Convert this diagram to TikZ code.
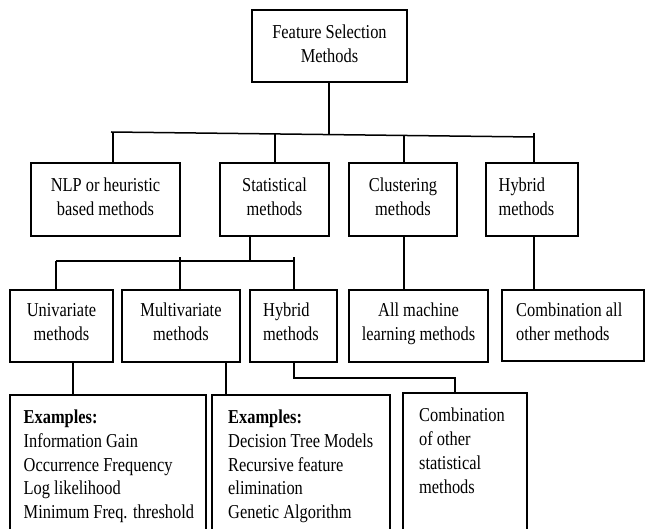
\documentclass[tikz,border=0pt]{standalone}
\usepackage{fontspec}
\usepackage{graphicx}
\setmainfont{Liberation Serif}
\newcommand{\mytxt}[2]{\scalebox{1}[1.2]{\begin{tabular}[t]{@{}#1@{}}#2\end{tabular}}}
\newcommand{\mkbox}[5]{\node[boxst, minimum width={(#4-#2)*1pt}, minimum height={(#5-#3)*1pt}] (#1) at ({(#2+#4)/2},{(#3+#5)/2}) {};}
\tikzset{
  boxst/.style={draw=black, line width=1.8pt, inner sep=0pt, outer sep=0pt, fill=none},
  conn/.style={line width=1.5pt, draw=black},
  ctxt/.style={inner sep=0pt, anchor=base, font=\fontsize{16.4}{20}\selectfont},
  ltxt/.style={inner sep=0pt, anchor=base west, font=\fontsize{16.4}{20}\selectfont}
}
\begin{document}
\begin{tikzpicture}[x=1pt,y=-1pt]
\useasboundingbox (0,0) rectangle (646,529);
\clip (0,0) rectangle (646,529);
% boxes
\mkbox{top}{252}{10}{407}{82}
\mkbox{nlp}{31}{163}{180}{236}
\mkbox{stat}{220}{163}{329}{236}
\mkbox{clus}{349}{163}{457}{236}
\mkbox{hyb}{486}{163}{578}{236}
\mkbox{uni}{10}{290}{113}{362}
\mkbox{multi}{122}{290}{240}{362}
\mkbox{hybb}{250}{290}{337}{362}
\mkbox{allml}{349}{290}{488}{362}
\mkbox{comb}{502}{290}{644}{361}
\mkbox{exa}{10}{395}{206}{560}
\mkbox{exb}{212}{395}{390}{560}
\mkbox{combb}{403}{393}{527}{560}
% texts
\node[ctxt] (ttop) at (329.5,39) {\mytxt{c}{Feature Selection\\Methods}};
\node[ctxt] (tnlp) at (105.5,192) {\mytxt{c}{NLP or heuristic\\based methods}};
\node[ctxt] (tstat) at (274.5,192) {\mytxt{c}{Statistical\\methods}};
\node[ctxt] (tclus) at (403,192) {\mytxt{c}{Clustering\\methods}};
\node[ltxt] (thyb) at (498.5,192) {\mytxt{l}{Hybrid\\methods}};
\node[ctxt] (tuni) at (61.5,317) {\mytxt{c}{Univariate\\methods}};
\node[ctxt] (tmulti) at (181,317) {\mytxt{c}{Multivariate\\methods}};
\node[ltxt] (thybb) at (263,317) {\mytxt{l}{Hybrid\\methods}};
\node[ctxt] (tallml) at (418.5,317) {\mytxt{c}{All machine\\learning methods}};
\node[ltxt] (tcomb) at (516,317) {\mytxt{l}{Combination all\\other methods}};
\node[ltxt, font=\fontsize{16.4}{19.6}\selectfont] (texa) at (23.5,424) {\mytxt{l}{\textbf{Examples:}\\Information Gain\\Occurrence Frequency\\Log likelihood\\Minimum Freq. threshold}};
\node[ltxt, font=\fontsize{16.4}{19.6}\selectfont] (texb) at (228,424) {\mytxt{l}{\textbf{Examples:}\\Decision Tree Models\\Recursive feature\\elimination\\Genetic Algorithm}};
\node[ltxt] (tcombb) at (419,422) {\mytxt{l}{Combination\\of other\\statistical\\methods}};
% connectors level 1
\coordinate (bL) at (111,132);
\coordinate (bR) at (534,137);
\coordinate (j0) at (329,134.6);
\coordinate (j1) at (113,132.1);
\coordinate (j2) at (275,133.9);
\coordinate (j3) at (404,135.5);
\coordinate (j4) at (534,133.5);
\draw[conn] (bL) -- (bR);
\draw[conn] (top.south -| j0) -- (j0);
\draw[conn] (j1) -- (j1 |- nlp.north);
\draw[conn] (j2) -- (j2 |- stat.north);
\draw[conn] (j3) -- (j3 |- clus.north);
\draw[conn] (j4) -- (j4 |- hyb.north);
% level 2 -> 3
\coordinate (sL) at (56,261);
\coordinate (sR) at (294,261);
\coordinate (s0) at (250,261);
\coordinate (s1) at (56,261);
\coordinate (s2) at (180,257.5);
\coordinate (s3) at (294,257.5);
\draw[conn] (sL) -- (sR);
\draw[conn] (stat.south -| s0) -- (s0);
\draw[conn] (s1) -- (s1 |- uni.north);
\draw[conn] (s2) -- (s2 |- multi.north);
\draw[conn] (s3) -- (s3 |- hybb.north);
\coordinate (c1) at (404,0);
\coordinate (c2) at (534,0);
\draw[conn] (clus.south -| c1) -- (allml.north -| c1);
\draw[conn] (hyb.south -| c2) -- (comb.north -| c2);
% level 3 -> 4
\coordinate (u1) at (73,0);
\coordinate (m1) at (226,0);
\draw[conn] (uni.south -| u1) -- (exa.north -| u1);
\draw[conn] (multi.south -| m1) -- (exb.north -| m1);
\coordinate (h1) at (294,378);
\coordinate (h2) at (455,378);
\draw[conn] (hybb.south -| h1) -- (h1) -- (h2) -- (h2 |- combb.north);
\end{tikzpicture}
\end{document}
